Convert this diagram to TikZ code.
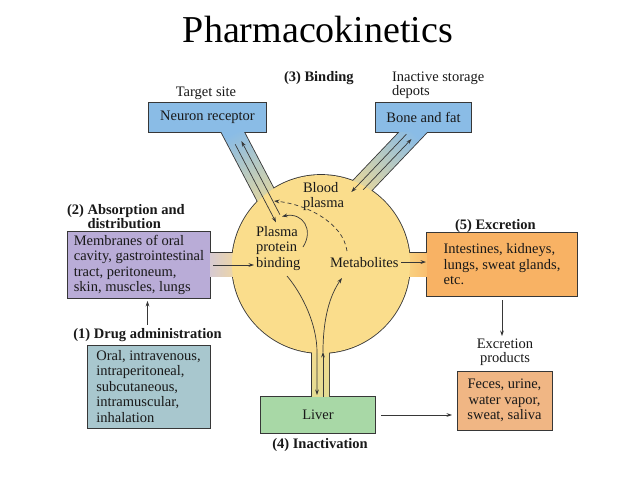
\documentclass[tikz,border=0pt]{standalone}
\usepackage{fontspec}
\setmainfont{Liberation Serif}
\usetikzlibrary{arrows.meta,calc}
\pgfdeclarelayer{bg}
\pgfdeclarelayer{outl}
\pgfdeclarelayer{fills}
\pgfsetlayers{bg,outl,fills,main}
\definecolor{cyel}{RGB}{250,221,140}
\definecolor{cblue}{RGB}{138,188,230}
\definecolor{cpurp}{RGB}{185,172,215}
\definecolor{cteal}{RGB}{168,199,206}
\definecolor{corange}{RGB}{248,178,100}
\definecolor{csalmon}{RGB}{240,182,132}
\definecolor{cgreen}{RGB}{168,216,166}
\definecolor{cline}{RGB}{55,55,55}
\definecolor{ctext}{RGB}{25,25,25}
\begin{document}
\begin{tikzpicture}[x=1pt,y=-1pt,
  every node/.style={inner sep=0pt, outer sep=0pt, text=ctext},
  body/.style={font=\fontsize{14.5}{15.5}\selectfont},
  bold/.style={font=\fontsize{14.5}{14}\selectfont\bfseries},
  fbox/.style={body, align=left},
  outline/.style={draw=cline, line width=1.7pt, line join=miter},
  arr/.style={draw=cline, line width=0.7pt, -{Stealth[length=5.5pt,width=3.8pt]}},
]
\begin{pgfonlayer}{bg}
  \fill[white] (0,0) rectangle (638,479);
\end{pgfonlayer}
\useasboundingbox (0,0) rectangle (638,479);

% title
\node[anchor=base, font=\fontsize{38}{40}\selectfont, text=black] (title) at (318,42) {Pharmacokinetics};

% boxes
\node[fbox, fill=cblue, minimum width=117pt, minimum height=29pt] (neuron) at (207.5,117.5) {Neuron receptor};
\node[fbox, fill=cblue, minimum width=95pt, minimum height=29pt] (bone) at (423.5,117.5) {Bone and fat};
\node[fbox, fill=cpurp, minimum width=142pt, minimum height=66pt] (purp) at (139,265) {Membranes of oral\\cavity, gastrointestinal\\tract, peritoneum,\\skin, muscles, lungs};
\node[fbox, fill=cteal, draw=cline, line width=0.9pt, minimum width=123pt, minimum height=83pt] (drug) at (148.5,386.5) {Oral, intravenous,\\intraperitoneal,\\subcutaneous,\\intramuscular,\\inhalation};
\node[fbox, fill=corange, minimum width=150pt, minimum height=63pt] (orng) at (502,264.5) {Intestines, kidneys,\\lungs, sweat glands,\\etc.};
\node[body, align=center, fill=csalmon, draw=cline, line width=0.9pt, minimum width=95pt, minimum height=59pt] (prod) at (504.5,400.5) {Feces, urine,\\water vapor,\\sweat, saliva};
\node[body, fill=cgreen, minimum width=114pt, minimum height=36pt] (liver) at (318,415) {Liver};

% labels
\node[body, anchor=base] (target) at (206,96) {Target site};
\node[bold, anchor=base west] (bindlbl) at (284,81) {(3) Binding};
\node[align=left, anchor=north west, font=\fontsize{14.5}{14}\selectfont] (inactive) at (392,72) {Inactive storage\\depots};
\node[body, align=left, anchor=north west] (blood) at (303,182) {Blood\\plasma};
\node[body, align=left, anchor=north west] (ppb) at (256,226) {Plasma\\protein\\binding};
\node[body, anchor=base west] (metab) at (330,267) {Metabolites};
\node[bold, align=left, anchor=north west] (abslbl) at (67,204) {(2) Absorption and\\\hspace*{20.5pt}distribution};
\node[bold, anchor=base] (druglbl) at (147.5,338) {(1) Drug administration};
\node[bold, anchor=base west] (exclbl) at (455,229) {(5) Excretion};
\node[align=center, anchor=north, font=\fontsize{14.5}{14}\selectfont] (prodlbl) at (505,339) {Excretion\\products};
\node[bold, anchor=base] (inactlbl) at (320,448) {(4) Inactivation};

% circle centre
\coordinate (cc) at (321,264);

% outlines
\begin{pgfonlayer}{outl}
  \draw[outline] (cc) circle[radius=89];
  \draw[outline] (237.9,120.4) -- (291.9,223.4) -- (274.1,232.6) -- (220.1,129.6) -- cycle;
  \draw[outline] (412.8,118.1) -- (332.8,202.1) -- (347.2,215.9) -- (427.2,131.9) -- cycle;
  \draw[outline] (200,253) rectangle (250,276);
  \draw[outline] (395,253) rectangle (440,276);
  \draw[outline] (312,330) rectangle (329,402);
  \foreach \b in {neuron,bone,purp,orng,liver}
    \draw[outline] (\b.north west) rectangle (\b.south east);
\end{pgfonlayer}

% fills
\begin{pgfonlayer}{fills}
  \shade[top color=cblue, bottom color=cyel, shading angle=28] (237.9,120.4) -- (291.9,223.4) -- (274.1,232.6) -- (220.1,129.6) -- cycle;
  \shade[top color=cblue, bottom color=cyel, shading angle=-44] (412.8,118.1) -- (332.8,202.1) -- (347.2,215.9) -- (427.2,131.9) -- cycle;
  \shade[left color=cpurp!70!white, middle color=cyel!55!white, right color=cyel] (200,253) rectangle (250,276);
  \shade[left color=cyel, middle color=cyel!60!corange, right color=corange] (395,253) rectangle (440,276);
  \shade[top color=cyel, bottom color=cyel!70!cgreen] (312,330) rectangle (329,402);
  \fill[cyel] (cc) circle[radius=89];
\end{pgfonlayer}

% arrow end points
\coordinate (tl1a) at (235.2,144.3);
\coordinate (tl1b) at (276,222.3);
\coordinate (tl2a) at (279.9,214.6);
\coordinate (tl2b) at (241.4,141.1);
\coordinate (tra1) at (406.4,134.2);
\coordinate (tra2) at (351.3,192.1);
\coordinate (trb1) at (363.2,189.7);
\coordinate (trb2) at (411.5,139);
\coordinate (sc1) at (303,247);
\coordinate (sc2) at (282,216.5);
\coordinate (dc1) at (347,251);
\coordinate (dc2) at (274,201);
\coordinate (bd1) at (287,276);
\coordinate (bd2) at (317,352);
\coordinate (bd3) at (317,395);
\coordinate (bu1) at (323,397);
\coordinate (bu2) at (323,352);
\coordinate (bu3) at (342,278);

% connectors
\draw[arr] (tl1a) -- (tl1b);
\draw[arr] (tl2a) -- (tl2b);
\draw[arr] (tra1) -- (tra2);
\draw[arr] (trb1) -- (trb2);
\draw[arr] (sc1) .. controls (314,230) and (303,212) .. (sc2);
\draw[arr, dash pattern=on 4pt off 3pt] (dc1) .. controls (343,222) and (305,204) .. (dc2);
\draw[arr] (bd1) .. controls (303,295) and (317,325) .. (bd2) -- (bd3);
\draw[arr] (bu1) -- (bu2);
\draw[arr] (bu2) .. controls (323,318) and (330,295) .. (bu3);
\draw[arr, shorten <=3pt, shorten >=2pt] (purp.east) -- (purp.east -| ppb.west);
\draw[arr, shorten <=3pt, shorten >=1pt] (metab.east) -- (metab.east -| orng.west);
\draw[arr, shorten <=6pt, shorten >=5pt] (liver.east) -- (liver.east -| prod.west);
\draw[arr, shorten <=4pt, shorten >=3pt] (orng.south) -- (orng.south |- prodlbl.north);
\draw[arr, shorten <=3pt, shorten >=3pt] (druglbl.north) -- (druglbl.north |- purp.south);
\end{tikzpicture}
\end{document}
